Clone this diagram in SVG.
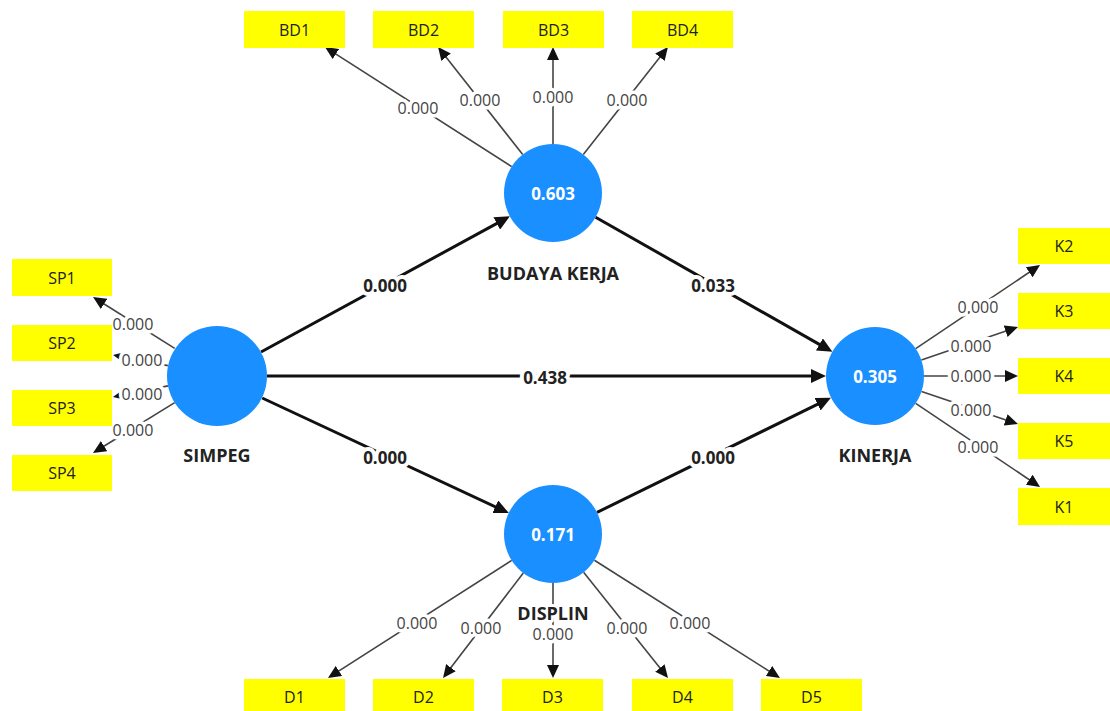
<svg xmlns="http://www.w3.org/2000/svg" width="1110" height="711" viewBox="0 0 1110 711">
<style>
.box{fill:#ffff00}
.bt{font-family:"Open Sans","Noto Sans",sans-serif;font-size:16px;fill:#222;text-anchor:middle;dominant-baseline:central}
.lv{fill:#1a8fff}
.vt{font-family:"Open Sans","Noto Sans",sans-serif;font-size:17px;font-weight:bold;fill:#fff;text-anchor:middle;dominant-baseline:central}
.nm{font-family:"Open Sans","Noto Sans",sans-serif;font-size:18px;font-weight:bold;fill:#222;text-anchor:middle;dominant-baseline:central;stroke:#fff;stroke-width:6;paint-order:stroke;stroke-linejoin:round}
.ol{stroke:#444;stroke-width:1.6;fill:none;marker-end:url(#ao)}
.il{stroke:#111;stroke-width:3;fill:none;marker-end:url(#ai)}
.ot{font-family:"Open Sans","Noto Sans",sans-serif;font-size:16px;fill:#444;text-anchor:middle;dominant-baseline:central;stroke:#fff;stroke-width:7;paint-order:stroke;stroke-linejoin:round}
.it{font-family:"Open Sans","Noto Sans",sans-serif;font-size:17px;font-weight:bold;fill:#222;text-anchor:middle;dominant-baseline:central;stroke:#fff;stroke-width:8;paint-order:stroke;stroke-linejoin:round}
</style>
<defs>
<marker id="ao" viewBox="0 0 13 12" refX="5" refY="6" markerWidth="13" markerHeight="12" markerUnits="userSpaceOnUse" orient="auto"><path d="M0,0 L13,6 L0,12 z" fill="#111"/></marker>
<marker id="ai" viewBox="0 0 15 14" refX="6" refY="7" markerWidth="15" markerHeight="14" markerUnits="userSpaceOnUse" orient="auto"><path d="M0,0 L15,7 L0,14 z" fill="#111"/></marker>
</defs>
<rect width="1110" height="711" fill="#fff"/>
<g id="connectors">
<line class="ol" x1="511.7" y1="166.6" x2="331.7" y2="51.3"/>
<line class="ol" x1="522.7" y1="154.5" x2="443" y2="53.3"/>
<line class="ol" x1="553" y1="144" x2="553" y2="55"/>
<line class="ol" x1="583.3" y1="154.5" x2="663" y2="53.3"/>
<line class="ol" x1="174.7" y1="348.4" x2="99.8" y2="301.3"/>
<line class="ol" x1="167.9" y1="365.6" x2="120.9" y2="356.5"/>
<line class="ol" x1="168" y1="385.9" x2="120.8" y2="395.4"/>
<line class="ol" x1="174.7" y1="402.6" x2="99.8" y2="448.7"/>
<line class="ol" x1="915.7" y1="348.7" x2="1033.4" y2="269.5"/>
<line class="ol" x1="921.4" y1="360.1" x2="1010.4" y2="329.6"/>
<line class="ol" x1="924" y1="376" x2="1010" y2="376"/>
<line class="ol" x1="921.5" y1="391.6" x2="1010.4" y2="421.5"/>
<line class="ol" x1="915.7" y1="403.3" x2="1033.4" y2="482.5"/>
<line class="ol" x1="511.7" y1="560.4" x2="334.7" y2="673.7"/>
<line class="ol" x1="523.3" y1="573" x2="447.9" y2="671.6"/>
<line class="ol" x1="553" y1="583" x2="553" y2="670"/>
<line class="ol" x1="583.6" y1="572.3" x2="663" y2="671.8"/>
<line class="ol" x1="594.4" y1="560.3" x2="773.2" y2="673.7"/>
<line class="il" x1="261" y1="352" x2="502" y2="220.6"/>
<line class="il" x1="595.6" y1="217.2" x2="824.6" y2="347.4"/>
<line class="il" x1="267" y1="376" x2="817" y2="376"/>
<line class="il" x1="262.2" y1="398" x2="500.7" y2="509.3"/>
<line class="il" x1="597" y1="512.4" x2="822.9" y2="401.6"/>
<text class="ot" x="418" y="108">0.000</text>
<text class="ot" x="480" y="100">0.000</text>
<text class="ot" x="553" y="97">0.000</text>
<text class="ot" x="627" y="100">0.000</text>
<text class="ot" x="133" y="324">0.000</text>
<text class="ot" x="142" y="360">0.000</text>
<text class="ot" x="142" y="394">0.000</text>
<text class="ot" x="133" y="430">0.000</text>
<text class="ot" x="978" y="307">0.000</text>
<text class="ot" x="971" y="346">0.000</text>
<text class="ot" x="971" y="376">0.000</text>
<text class="ot" x="971" y="410">0.000</text>
<text class="ot" x="978" y="447">0.000</text>
<text class="ot" x="417" y="623">0.000</text>
<text class="ot" x="481" y="628">0.000</text>
<text class="ot" x="627" y="628">0.000</text>
<text class="ot" x="690" y="623">0.000</text>
<text class="it" x="385" y="285">0.000</text>
<text class="it" x="713" y="285">0.033</text>
<text class="it" x="545" y="377">0.438</text>
<text class="it" x="385" y="457">0.000</text>
<text class="it" x="713" y="457">0.000</text>
</g>
<g id="BD1"><rect class="box" x="244" y="11" width="101" height="37"/><text class="bt" x="294.5" y="29.5">BD1</text></g>
<g id="BD2"><rect class="box" x="373" y="11" width="101" height="37"/><text class="bt" x="423.5" y="29.5">BD2</text></g>
<g id="BD3"><rect class="box" x="503" y="11" width="101" height="37"/><text class="bt" x="553.5" y="29.5">BD3</text></g>
<g id="BD4"><rect class="box" x="632" y="11" width="101" height="37"/><text class="bt" x="682.5" y="29.5">BD4</text></g>
<g id="SP1"><rect class="box" x="12" y="259" width="100" height="37"/><text class="bt" x="62" y="277.5">SP1</text></g>
<g id="SP2"><rect class="box" x="12" y="325" width="100" height="36"/><text class="bt" x="62" y="343">SP2</text></g>
<g id="SP3"><rect class="box" x="12" y="390" width="100" height="36"/><text class="bt" x="62" y="408">SP3</text></g>
<g id="SP4"><rect class="box" x="12" y="455" width="100" height="36"/><text class="bt" x="62" y="473">SP4</text></g>
<g id="K2"><rect class="box" x="1018" y="228" width="100" height="36"/><text class="bt" x="1064" y="246">K2</text></g>
<g id="K3"><rect class="box" x="1018" y="293" width="100" height="36"/><text class="bt" x="1064" y="311">K3</text></g>
<g id="K4"><rect class="box" x="1018" y="358" width="100" height="36"/><text class="bt" x="1064" y="376">K4</text></g>
<g id="K5"><rect class="box" x="1018" y="423" width="100" height="36"/><text class="bt" x="1064" y="441">K5</text></g>
<g id="K1"><rect class="box" x="1018" y="488" width="100" height="37"/><text class="bt" x="1064" y="506.5">K1</text></g>
<g id="D1"><rect class="box" x="244" y="679" width="101" height="36"/><text class="bt" x="294.5" y="697">D1</text></g>
<g id="D2"><rect class="box" x="373" y="679" width="101" height="36"/><text class="bt" x="423.5" y="697">D2</text></g>
<g id="D3"><rect class="box" x="502" y="679" width="101" height="36"/><text class="bt" x="552.5" y="697">D3</text></g>
<g id="D4"><rect class="box" x="632" y="679" width="101" height="36"/><text class="bt" x="682.5" y="697">D4</text></g>
<g id="D5"><rect class="box" x="761" y="679" width="101" height="36"/><text class="bt" x="811.5" y="697">D5</text></g>
<g id="SIMPEG"><circle class="lv" cx="217" cy="376" r="50"/><text class="nm" x="217" y="455">SIMPEG</text></g>
<g id="BUDAYA_KERJA"><circle class="lv" cx="553" cy="193" r="49"/><text class="vt" x="553" y="193">0.603</text><text class="nm" x="553" y="273">BUDAYA KERJA</text></g>
<g id="KINERJA"><circle class="lv" cx="875" cy="376" r="49"/><text class="vt" x="875" y="376">0.305</text><text class="nm" x="875" y="455">KINERJA</text></g>
<g id="DISPLIN"><circle class="lv" cx="553" cy="534" r="49"/><text class="vt" x="553" y="534">0.171</text><text class="nm" x="553" y="613">DISPLIN</text><text class="ot" x="553" y="634">0.000</text></g>
</svg>
